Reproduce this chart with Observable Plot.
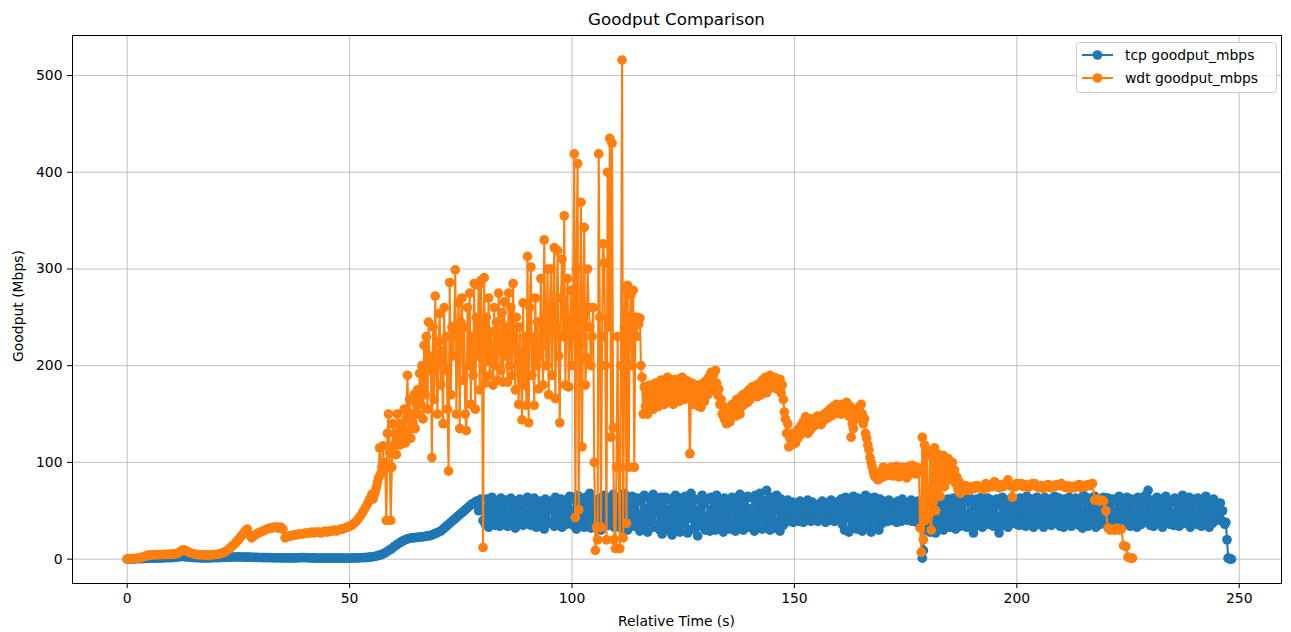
<!DOCTYPE html>
<html><head><meta charset="utf-8">
<script src="https://cdn.jsdelivr.net/npm/d3@7"></script>
<script src="https://cdn.jsdelivr.net/npm/@observablehq/plot@0.6"></script>
<style>
body{margin:0;background:#fff;font-family:"DejaVu Sans",sans-serif;color:#000;}
#wrap{position:relative;width:1291px;height:632px;overflow:hidden;}
#wrap svg{display:block;}
.ttl{position:absolute;left:72px;width:1209px;top:9px;line-height:20px;text-align:center;font-size:16.7px;}
.xl{position:absolute;left:72px;width:1209px;top:612px;line-height:18px;text-align:center;font-size:13.9px;}
.yl{position:absolute;left:-42px;top:297px;width:120px;line-height:18px;text-align:center;font-size:13.9px;transform:rotate(-90deg);white-space:nowrap;}
</style></head><body><div id="wrap"></div>
<script>
const chartTitle = "Goodput Comparison";
const xLabel = "Relative Time (s)";
const yLabel = "Goodput (Mbps)";
const seriesNames = ["tcp goodput_mbps", "wdt goodput_mbps"];
const seriesColors = ["#1f77b4", "#ff7f0e"];
const xTicks = [0, 50, 100, 150, 200, 250];
const yTicks = [0, 100, 200, 300, 400, 500];

// tcp: chunk start times (s), sample intervals (s), sampled values (Mbps)
const tcpStarts = [0,10.5,20.5,30.5,40.5,50.5,55.5,60.5,65.5,70.5,75.5,
  80.25,85.25,90.25,95.25,100.25,105.25,110.25,115.25,120.25,125.25,130.25,135.25,140.25,145.25,150.25,155.25,
  160.25,165.25,170.25,175.25,180.25,185.25,190.25,195.25,200.25,205.25,210.25,215.25,220.25,225.25,230.25,235.25,240.25,245.25];
const tcpSteps = [0.5,0.5,0.5,0.5,0.5,0.5,0.5,0.5,0.5,0.5,0.5,
  0.25,0.25,0.25,0.25,0.25,0.25,0.25,0.25,0.25,0.25,0.25,0.25,0.25,0.25,0.25,0.25,
  0.25,0.25,0.25,0.25,0.25,0.25,0.25,0.25,0.25,0.25,0.25,0.25,0.25,0.25,0.25,0.25,0.25,0.25];
const tcpValues = [
 [0,0,0.2,0.3,0.4,0.5,0.5,0.6,0.7,0.8,0.9,1,1,1.1,1.2,1.2,1.3,1.4,1.5,1.5,1.6],
 [1.8,2,2.3,2.6,2.8,2.5,2.2,2,1.8,1.6,1.5,1.4,1.3,1.3,1.2,1.2,1.3,1.4,1.5,1.5],
 [1.6,1.7,1.8,1.9,2,2,2.1,2.2,2.2,2.3,2.2,2.2,2.1,2,2,1.9,1.8,1.8,1.7,1.7],
 [1.6,1.6,1.5,1.5,1.4,1.4,1.4,1.3,1.3,1.3,1.3,1.2,1.2,1.2,1.2,1.3,1.4,1.5,1.6,1.5],
 [1.4,1.3,1.2,1.2,1.1,1.1,1,1,1,1,1,1,1,1,1,1,1,1,1,1.1],
 [1.1,1.2,1.2,1.3,1.4,1.5,1.6,1.8,2,2.3],
 [2.7,3.2,3.8,4.5,5.5,6.5,8,9.5,11,13],
 [14.5,16,17.5,19,20,21,21.5,22,22,22.5],
 [22.5,23,23,23.5,24,24,25,26,27,28],
 [29,31,33,35,37,39,41,43,45,47],
 [49,51,53,55,57,58,60,50,62,40],
 [52,36,62,44,33,58,47,64,39,55,35,60,42,50,34,63,45,57,38,61],
 [48,34,59,41,63,37,53,45,32,60,50,36,62,43,56,35,58,46,39,64],
 [44,61,35,52,38,63,47,33,57,42,60,36,54,49,31,62,40,58,37,55],
 [60,39,51,34,64,45,37,58,43,62,33,53,48,61,36,56,41,65,38,50],
 [35,62,46,31,66,42,57,36,60,50,33,64,39,55,44,68,32,58,47,37],
 [61,34,53,45,63,30,57,40,66,37,51,62,35,48,59,42,67,33,55,44],
 [38,64,49,32,60,43,68,36,54,30,62,47,39,65,51,34,58,41,63,45],
 [29,60,46,35,66,41,52,28,63,38,57,44,67,33,50,61,36,55,30,64],
 [26,58,43,64,35,51,30,62,47,25,56,39,66,33,60,45,28,63,41,54],
 [36,65,48,27,59,42,68,31,53,62,37,46,24,61,50,34,66,40,57,30],
 [33,62,45,29,64,51,38,58,30,66,43,55,35,61,47,28,63,40,57,36],
 [59,31,48,64,37,53,29,62,44,34,67,40,56,30,60,46,38,65,33,52],
 [35,63,47,29,66,41,58,33,68,45,31,61,52,37,71,43,56,30,64,39],
 [60,32,50,66,38,55,29,62,44,35,58,48,40,61,39,53,42,59,38,50],
 [41,58,46,39,60,43,55,38,57,48,40,61,44,52,39,59,42,56,45,50],
 [39,57,47,41,60,44,53,38,58,42,55,40,61,46,50,39,59,43,54,41],
 [45,62,36,56,30,64,42,58,28,60,48,34,65,40,55,31,63,46,38,59],
 [29,61,44,66,33,57,40,63,28,52,47,64,35,58,42,30,62,50,37,60],
 [41,59,46,39,61,44,55,40,58,42,53,38,60,47,50,39,62,45,56,41],
 [58,40,52,44,61,39,55,42,59,38,60,45,50,37,1,9,30,45,58,36],
 [62,28,50,35,60,42,27,57,46,32,61,38,54,30,59,44,35,62,48,33],
 [57,36,63,45,31,55,40,61,34,50,58,38,64,43,33,59,47,36,62,40],
 [27,55,44,62,35,58,41,64,33,50,60,38,46,63,36,54,42,61,34,57],
 [45,62,38,27,56,43,64,35,51,60,40,33,58,47,63,37,53,44,61,36],
 [52,35,63,44,38,60,47,34,65,41,56,37,62,48,33,59,43,64,39,55],
 [36,61,46,33,64,42,57,38,62,50,35,60,44,65,37,53,41,63,34,58],
 [47,33,62,40,56,36,64,45,34,59,50,38,63,43,57,35,61,48,32,66],
 [39,60,45,34,63,51,37,58,42,65,33,55,47,62,36,59,41,64,38,53],
 [44,63,35,57,40,62,48,33,60,46,37,65,42,55,34,61,50,38,64,43],
 [56,34,62,45,38,60,49,33,64,41,57,36,63,47,39,66,44,71,52,35],
 [61,42,34,58,47,64,37,53,40,62,33,56,45,65,38,50,60,36,59,43],
 [35,63,48,40,60,34,55,44,66,37,52,61,39,46,64,33,57,42,62,38],
 [50,36,63,44,58,34,61,47,39,65,42,55,33,60,49,37,62,45,58,40],
 [55,44,58,40,50,38,36,38,20,1,0.5,0,0]
];

// wdt: chunk start times (s), sample intervals (s), sampled values (Mbps)
const wdtStarts = [0,10.5,20.5,30.5,40.5,50.5,55.25,60.25,65.25,70.25,75.25,80.25,85.25,90.25,95.25,100.25,105.25,110.25,115.25,
  116.25,121.25,126.25,131.25,136.25,141.25,146.25,151.25,156.25,161.25,166.25,171.25,176.25,180.25,185.25,190.5,200.5,210.5,220.5];
const wdtSteps = [0.5,0.5,0.5,0.5,0.5,0.5,0.25,0.25,0.25,0.25,0.25,0.25,0.25,0.25,0.25,0.25,0.25,0.25,0.25,
  0.25,0.25,0.25,0.25,0.25,0.25,0.25,0.25,0.25,0.25,0.25,0.25,0.25,0.25,0.25,0.5,0.5,0.5,0.5];
const wdtValues = [
 [0,0.3,0.5,0.6,0.8,1,1.5,2,3,3.8,4.2,4.4,4.5,4.6,4.6,4.7,4.8,4.8,5,5,5.1],
 [5.3,5.6,6.5,8,9.5,9,8,7,6,5.5,5,4.6,4.4,4.3,4.2,4.2,4.3,4.4,4.6,4.8],
 [5.2,5.8,6.5,7.5,9,11,13,15,17.5,20,23,26,29,31,25,22,24,26,27,28],
 [29,30,31,32,32,33,33,32,33,31,22,23,24,24,25,25,26,26,26,27],
 [27,27,28,27,28,28,27,28,29,28,29,29,30,29,30,31,31,32,33,34],
 [35,37,39,42,45,49,53,57,62,67],
 [62,66,70,74,79,84,115,88,95,117,92,100,40,130,150,110,40,95,140,118],
 [130,108,150,125,118,140,128,135,155,120,145,190,132,165,125,150,140,170,135,160],
 [175,150,192,160,200,145,221,170,230,155,245,195,210,105,240,165,272,200,150,225],
 [254,180,215,140,260,195,230,155,91,286,170,240,210,240,299,150,230,265,135,245],
 [270,185,240,150,133,260,200,275,160,230,190,285,155,250,210,283,175,288,240,12],
 [291,182,250,205,270,190,235,215,180,260,200,245,185,275,220,195,255,183,266,210],
 [240,183,275,200,260,190,285,230,175,250,215,160,240,200,144,265,180,230,159,313],
 [141,260,302,190,230,159,270,200,245,176,210,290,220,180,330,240,200,300,170,250],
 [300,190,260,322,166,240,319,210,141,270,310,230,355,180,250,290,178,230,278,200],
 [250,419,43,300,409,51,220,369,116,260,343,180,208,300,260,240,200,230,260,100],
 [9,33,20,419,250,33,230,326,306,200,20,400,240,435,126,430,136,20,11,95],
 [230,95,11,200,516,22,240,279,37,283,95,250,273,200,278,95,250,230,250,243],
 [249,200,188,150],
 [178,158,172,150,168,180,160,175,155,170,182,162,176,158,172,185,165,178,160,183],
 [170,188,165,180,172,185,160,178,168,186,175,163,182,170,188,176,165,180,172,184],
 [168,109,175,182,160,178,170,165,180,158,172,157,168,182,163,176,185,170,188,178],
 [193,180,190,175,195,182,170,176,160,165,150,158,145,152,140,148,155,142,150,160],
 [152,160,148,165,155,162,150,168,158,170,160,165,172,162,175,165,170,178,168,175],
 [172,180,168,176,182,170,185,175,178,188,172,182,176,190,180,186,178,188,182,176],
 [184,178,186,172,180,165,152,145,130,140,116,125,118,130,122,128,120,132,125,135],
 [128,138,130,142,135,147,138,130,140,133,145,136,142,138,146,140,148,142,145,139],
 [148,143,150,145,152,146,150,155,148,153,158,150,155,160,152,158,155,150,160,156],
 [158,152,162,155,148,158,126,140,135,150,145,154,148,157,152,160,150,140,145,130],
 [125,118,113,105,100,95,90,86,85,88,82,87,90,84,88,95,91,86,93,89],
 [92,87,95,90,86,93,88,96,91,85,94,89,95,90,87,93,84,90,96,88],
 [92,97,90,94,88,95,91,90,32,7,126,20,118,40,110,50],
 [45,112,30,105,60,115,50,100,70,108,65,98,80,107,75,100,85,104,82,95],
 [88,100,82,92,78,85,72,80,68,75,70,74,72,76,71,75,73,74,72,75],
 [73,76,74,75,72,78,74,76,75,80,76,74,77,75,78,82,76,64,75,78],
 [76,78,75,77,74,76,78,78,75,74,76,73,75,77,74,76,75,77,76,78],
 [75,74,76,73,75,74,76,77,74,76,75,77,76,78,61,62,60,61,60,50],
 [32,30,31,30,32,30,31,14,13,2,1,1]
];

function toRows(starts, steps, chunks) {
  const out = [];
  starts.forEach((s, i) => chunks[i].forEach((v, j) => out.push({t: s + j * steps[i], v})));
  return out;
}
const tcpRows = toRows(tcpStarts, tcpSteps, tcpValues);
const wdtRows = toRows(wdtStarts, wdtSteps, wdtValues);

const lineW = 2.08, dotR = 4.85;
const plot = Plot.plot({
  width: 1291, height: 632,
  marginLeft: 72, marginRight: 10, marginTop: 35, marginBottom: 49,
  x: {domain: [-12.3, 259.5], label: null},
  y: {domain: [-25.2, 541.4], label: null},
  style: {fontFamily: "DejaVu Sans", fontSize: "13.9px", color: "#000", background: "#fff", overflow: "visible"},
  marks: [
    Plot.gridX(xTicks, {stroke: "#b0b0b0", strokeOpacity: 1, strokeWidth: 0.8}),
    Plot.gridY(yTicks, {stroke: "#b0b0b0", strokeOpacity: 1, strokeWidth: 0.8}),
    Plot.line(tcpRows, {x: "t", y: "v", stroke: seriesColors[0], strokeWidth: lineW}),
    Plot.dot(tcpRows, {x: "t", y: "v", r: dotR, fill: seriesColors[0], stroke: null}),
    Plot.line(wdtRows, {x: "t", y: "v", stroke: seriesColors[1], strokeWidth: lineW}),
    Plot.dot(wdtRows, {x: "t", y: "v", r: dotR, fill: seriesColors[1], stroke: null}),
    Plot.frame({stroke: "#000", strokeWidth: 1}),
    Plot.axisX(xTicks, {tickSize: 5, tickPadding: 5, label: null, stroke: "#000"}),
    Plot.axisY(yTicks, {tickSize: 5, tickPadding: 5, label: null, stroke: "#000"})
  ]
});
const wrap = document.getElementById("wrap");
wrap.appendChild(plot);

function addDiv(cls, text) {
  const d = document.createElement("div");
  d.className = cls; d.textContent = text; wrap.appendChild(d);
}
addDiv("ttl", chartTitle);
addDiv("xl", xLabel);
addDiv("yl", yLabel);

// legend
const ns = "http://www.w3.org/2000/svg";
const lg = document.createElementNS(ns, "svg");
lg.setAttribute("width", 202); lg.setAttribute("height", 52);
lg.style.position = "absolute"; lg.style.left = "1076px"; lg.style.top = "42px";
let html = `<rect x="0.5" y="0.5" width="200" height="50" rx="3" fill="rgba(255,255,255,0.8)" stroke="#cccccc"/>`;
seriesNames.forEach((n, i) => {
  const yy = 13 + i * 23;
  html += `<line x1="6" x2="37" y1="${yy}" y2="${yy}" stroke="${seriesColors[i]}" stroke-width="${lineW}"/>`;
  html += `<circle cx="21.5" cy="${yy}" r="${dotR}" fill="${seriesColors[i]}"/>`;
  html += `<text x="49" y="${yy}" dy="0.36em" font-family="DejaVu Sans" font-size="13.9">${n}</text>`;
});
lg.innerHTML = html;
wrap.appendChild(lg);
</script></body></html>
